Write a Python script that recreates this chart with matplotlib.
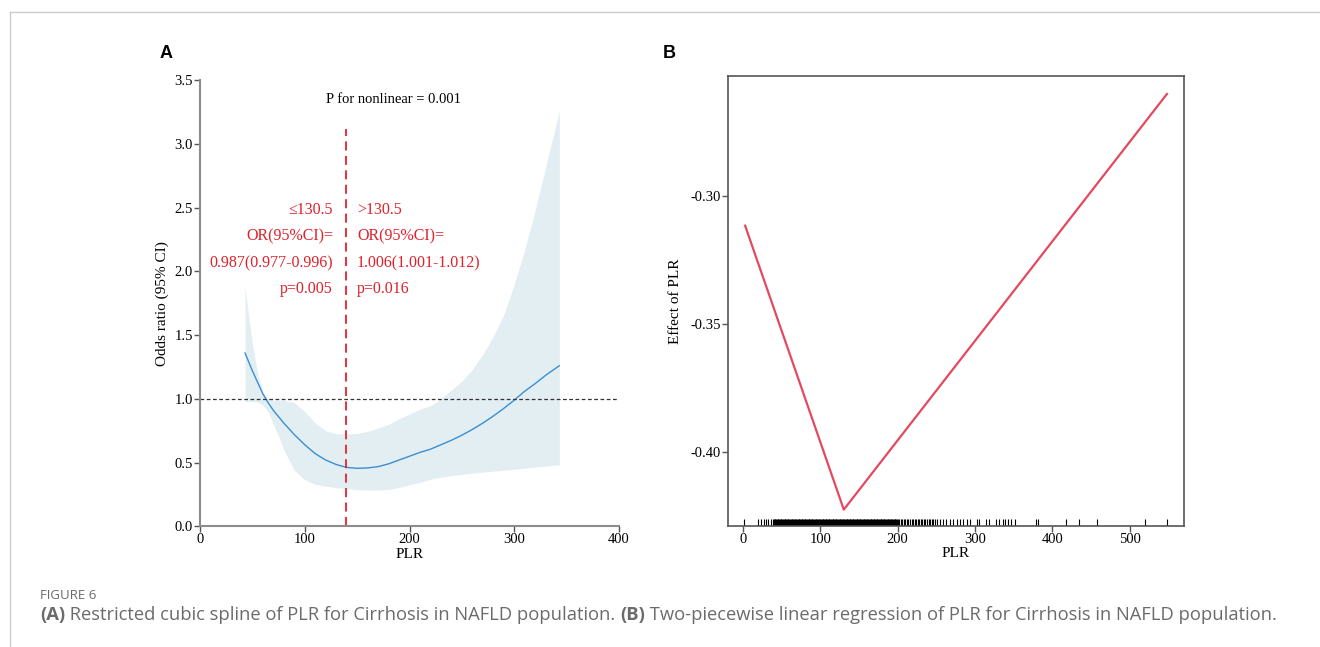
import matplotlib
matplotlib.use("Agg")
import matplotlib.pyplot as plt
from matplotlib.lines import Line2D

plt.rcParams['font.family'] = ['Liberation Serif', 'DejaVu Serif']

# ---- panel A data (restricted cubic spline) ----
plr_a = [43, 46, 50, 55, 60, 65, 70, 75, 80, 90, 100, 110, 120, 130, 140, 150,
         160, 170, 180, 190, 200, 210, 220, 230, 240, 250, 260, 270, 280, 290,
         300, 310, 320, 330, 343]
or_fit = [1.36, 1.30, 1.22, 1.13, 1.04, 0.97, 0.91, 0.86, 0.81, 0.72, 0.64, 0.57,
          0.52, 0.485, 0.462, 0.455, 0.458, 0.468, 0.49, 0.52, 0.55, 0.58, 0.605,
          0.64, 0.675, 0.715, 0.76, 0.81, 0.865, 0.925, 0.99, 1.06, 1.12, 1.185, 1.26]
or_upper = [1.88, 1.68, 1.43, 1.20, 1.05, 1.0, 0.99, 0.99, 0.99, 0.97, 0.90, 0.81,
            0.75, 0.727, 0.725, 0.73, 0.745, 0.77, 0.80, 0.845, 0.88, 0.92, 0.945,
            1.0, 1.07, 1.14, 1.23, 1.35, 1.49, 1.66, 1.90, 2.17, 2.48, 2.82, 3.26]
or_lower = [0.98, 0.98, 0.98, 0.975, 0.95, 0.90, 0.80, 0.71, 0.60, 0.44, 0.365, 0.33,
            0.315, 0.303, 0.297, 0.288, 0.285, 0.285, 0.29, 0.305, 0.325, 0.345, 0.37,
            0.385, 0.398, 0.408, 0.417, 0.425, 0.433, 0.44, 0.447, 0.457, 0.465, 0.473, 0.482]
cutoff_line = 139
left_lines = ["\u2264130.5", "OR(95%CI)=", "0.987(0.977-0.996)", "p=0.005"]
right_lines = [">130.5", "OR(95%CI)=", "1.006(1.001-1.012)", "p=0.016"]

# ---- panel B data (two-piecewise linear regression) ----
plr_b = [3, 130.5, 548]
effect_b = [-0.3117, -0.4225, -0.2603]
rug_plr = [2, 19, 23, 27, 30, 33, 36,
           39, 40, 41, 42, 43, 44, 45, 46, 47, 48, 49, 50, 51, 52, 53, 54, 55, 56, 57, 58, 59,
           60, 61, 62, 63, 64, 65, 66, 67, 68, 69, 70, 71, 72, 73, 74, 75, 76, 77, 78, 79,
           80, 81, 82, 83, 84, 85, 86, 87, 88, 89, 90, 91, 92, 93, 94, 95, 96, 97, 98, 99,
           100, 101, 102, 103, 104, 105, 106, 107, 108, 109, 110, 111, 112, 113, 114, 115,
           116, 117, 118, 119, 120, 121, 122, 123, 124, 125, 126, 127, 128, 129, 130, 131,
           132, 133, 134, 135, 136, 137, 138, 139, 140, 141, 142, 143, 144, 145, 146, 147,
           148, 149, 150, 151, 152, 153, 154, 155, 156, 157, 158, 159, 160, 161, 162, 163,
           164, 165, 166, 167, 168, 169, 170, 171, 172, 173, 174, 175, 176, 177, 178, 179,
           180, 181, 182, 183, 184, 185, 186, 187, 188, 189, 190, 191, 192, 193, 194, 195,
           196, 197, 198, 199, 200,
           202, 204, 206, 208, 210, 212, 214, 216, 218, 220, 222, 224, 226, 228, 230, 232,
           234, 236, 238, 240, 242, 244, 246, 248,
           251, 255, 259, 263, 268, 272, 277, 281, 285, 290, 293, 302, 305, 314, 318,
           327, 331, 336, 339, 343, 347, 352, 379, 381, 418, 434, 457, 520, 548]

W, H = 1320, 647
fig = plt.figure(figsize=(W / 100, H / 100), dpi=100)

# thin page border like the journal screenshot
fig.add_artist(Line2D([9.5 / W, 1], [1 - 11.7 / H, 1 - 11.7 / H], color='#cccccc', lw=1))
fig.add_artist(Line2D([9.5 / W, 9.5 / W], [0, 1 - 11.7 / H], color='#cccccc', lw=1))

# ---------------- panel A ----------------
axA = fig.add_axes([200 / W, 1 - 526.3 / H, 419 / W, 446 / H])
axA.fill_between(plr_a, or_lower, or_upper, color='#e2eef2', lw=0)
axA.plot(plr_a, or_fit, color='#3a8fd0', lw=1.0)
axA.axhline(1.0, color='#333333', lw=0.9, ls=(0, (3, 2)))
axA.plot([cutoff_line, cutoff_line], [0, 3.12], color='#e8202a', lw=1.3, ls=(0, (5, 3)))
axA.set_xlim(0, 400)
axA.set_ylim(0, 3.5)
axA.set_xticks([0, 100, 200, 300, 400])
axA.set_yticks([0, 0.5, 1.0, 1.5, 2.0, 2.5, 3.0, 3.5])
axA.set_yticklabels(["0.0", "0.5", "1.0", "1.5", "2.0", "2.5", "3.0", "3.5"])
for s in ['top', 'right']:
    axA.spines[s].set_visible(False)
for s in ['left', 'bottom']:
    axA.spines[s].set_color('#8c8c8c')
    axA.spines[s].set_linewidth(1.5)
axA.tick_params(direction='out', length=4, width=1, color='#555555', labelsize=10.5, pad=1)
axA.set_xlabel("PLR", fontsize=11, labelpad=1)
axA.set_ylabel("Odds ratio (95% CI)", fontsize=11, labelpad=4)
axA.text(185, 3.35, "P for nonlinear = 0.001", ha='center', va='center', fontsize=10.5)
for i, (l, r) in enumerate(zip(left_lines, right_lines)):
    yy = 2.48 - i * 0.207
    axA.text(127, yy, l, ha='right', va='center', fontsize=11.5, color='#e0202a')
    axA.text(150, yy, r, ha='left', va='center', fontsize=11.5, color='#e0202a')
fig.text(160 / W, 1 - 53.5 / H, "A", fontsize=13, fontweight='bold',
         family='Liberation Sans', ha='left', va='center')

# ---------------- panel B ----------------
axB = fig.add_axes([727.7 / W, 1 - 526 / H, 456.3 / W, 450 / H])
axB.plot(plr_b, effect_b, color='#e34a5f', lw=1.6)
axB.vlines(rug_plr, 0, 0.016, transform=axB.get_xaxis_transform(), color='black', lw=0.8)
axB.set_xlim(-19.5, 570)
axB.set_ylim(-0.4289, -0.2533)
axB.set_xticks([0, 100, 200, 300, 400, 500])
axB.set_yticks([-0.40, -0.35, -0.30])
axB.set_yticklabels(["-0.40", "-0.35", "-0.30"])
for s in axB.spines.values():
    s.set_color('#555555')
    s.set_linewidth(1.2)
axB.tick_params(direction='out', length=4, width=1, color='#555555', labelsize=10.5, pad=1)
axB.set_xlabel("PLR", fontsize=11, labelpad=1)
axB.set_ylabel("Effect of PLR", fontsize=11, labelpad=6)
fig.text(663 / W, 1 - 53.5 / H, "B", fontsize=13, fontweight='bold',
         family='Liberation Sans', ha='left', va='center')

# ---------------- caption ----------------
cap_color = '#6b6b6b'
fig.text(40 / W, 1 - 595.5 / H, "FIGURE 6", fontsize=9.5, color=cap_color,
         family='Open Sans', ha='left', va='center')
pieces = [("(A)", 'bold'),
          (" Restricted cubic spline of PLR for Cirrhosis in NAFLD population. ", 'normal'),
          ("(B)", 'bold'),
          (" Two-piecewise linear regression of PLR for Cirrhosis in NAFLD population.", 'normal')]
fig.canvas.draw()
renderer = fig.canvas.get_renderer()
x = 40 / W
for txt, wt in pieces:
    t = fig.text(x, 1 - 615 / H, txt, fontsize=13.2, color=cap_color, family='Open Sans',
                 fontweight=wt, ha='left', va='center')
    bb = t.get_window_extent(renderer)
    x = bb.x1 / W

fig.savefig("out.png", dpi=100)
